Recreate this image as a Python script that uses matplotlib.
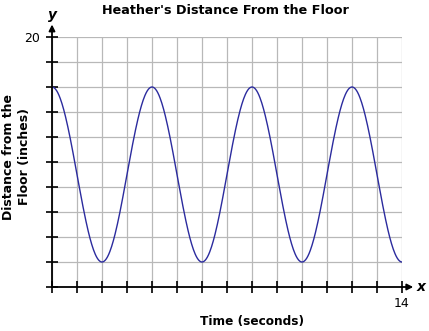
import numpy as np
import matplotlib
matplotlib.use("Agg")
import matplotlib.pyplot as plt

# Data
title = "Heather's Distance From the Floor"
x_label = "Time (seconds)"
y_label = "Distance from the\nFloor (inches)"
x_max = 14
y_max = 20
x_ticks = list(range(0, 15, 1))
y_ticks = list(range(0, 21, 2))
peak_value = 16      # maximum height (inches)
trough_value = 2     # minimum height (inches)
period = 4           # seconds between peaks
start_at_peak_time = 0

fig = plt.figure(figsize=(4.29, 3.31), dpi=100)
ax = fig.add_axes([52/429, 1-287/331, 350/429, 250/331])

t = np.linspace(0, x_max, 600)
mid = (peak_value + trough_value) / 2
amp = (peak_value - trough_value) / 2
d = mid + amp * np.cos(2 * np.pi * (t - start_at_peak_time) / period)
ax.plot(t, d, color="#2b2b9e", lw=1.0, zorder=3)

ax.set_xlim(0, x_max)
ax.set_ylim(0, y_max)
ax.set_xticks(x_ticks)
ax.set_yticks(y_ticks)
ax.set_xticklabels([str(v) if v == x_max else "" for v in x_ticks], fontsize=9)
ax.set_yticklabels([str(v) if v == y_max else "" for v in y_ticks], fontsize=9)
ax.grid(True, color="#b8b8b8", lw=0.9, zorder=0)
ax.tick_params(direction="inout", length=9, width=1.2, colors="black", pad=3)
ax.tick_params(axis="y", pad=4)
for s in ["top", "right"]:
    ax.spines[s].set_visible(False)
for s in ["left", "bottom"]:
    ax.spines[s].set_linewidth(1.3)
    ax.spines[s].set_zorder(4)

# axis arrows
ax.annotate("", xy=(0, 21.0), xytext=(0, 20), xycoords="data",
            arrowprops=dict(arrowstyle="-|>", color="black", lw=1.3,
                            mutation_scale=9, shrinkA=0, shrinkB=0),
            annotation_clip=False)
ax.annotate("", xy=(14.45, 0), xytext=(14, 0), xycoords="data",
            arrowprops=dict(arrowstyle="-|>", color="black", lw=1.3,
                            mutation_scale=9, shrinkA=0, shrinkB=0),
            annotation_clip=False)
fig.text(52/429, 1-15/331, "y", fontsize=10, fontweight="bold", style="italic",
         ha="center", va="center")
fig.text(421/429, 1-287/331, "x", fontsize=10, fontweight="bold", style="italic",
         ha="center", va="center")

fig.text(225/429, 1-10/331, title, fontsize=9.2, fontweight="bold",
         ha="center", va="center")
fig.text(252/429, 1-322/331, x_label, fontsize=8.7, fontweight="bold",
         ha="center", va="center")
fig.text(17/429, 1-157/331, y_label, fontsize=9, fontweight="bold",
         ha="center", va="center", rotation=90, linespacing=1.3)

fig.savefig("out.png", dpi=100)
